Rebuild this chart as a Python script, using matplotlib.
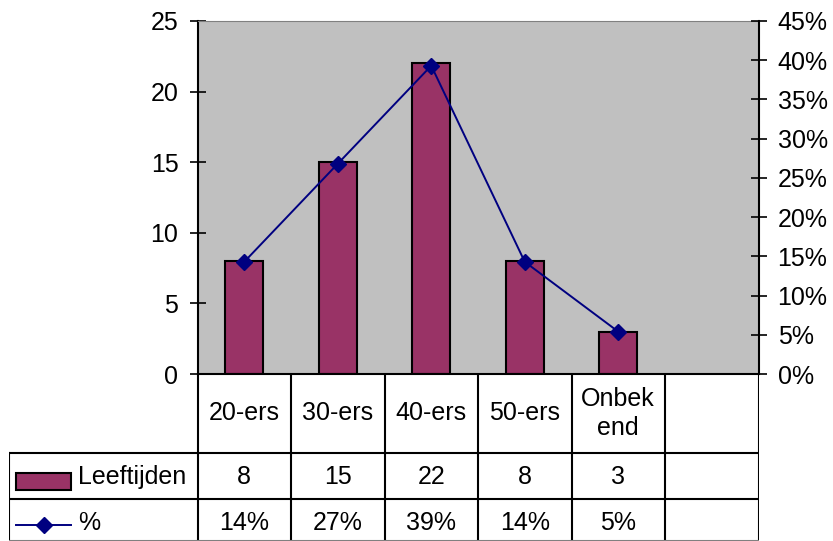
import numpy as np
import matplotlib.pyplot as plt
from matplotlib.patches import Rectangle
from matplotlib.lines import Line2D

# Gegevens
categorieen = ['20-ers', '30-ers', '40-ers', '50-ers', 'Onbek\nend', '']
leeftijden = [8, 15, 22, 8, 3]
percentages = [0.143, 0.268, 0.393, 0.143, 0.054]
pct_labels = ['14%', '27%', '39%', '14%', '5%']
links_ticks = [0, 5, 10, 15, 20, 25]
rechts_ticks = [0, 0.05, 0.10, 0.15, 0.20, 0.25, 0.30, 0.35, 0.40, 0.45]

plt.rcParams['font.family'] = ['Liberation Sans', 'DejaVu Sans']
fs = 18
bar_kleur = '#993366'
lijn_kleur = '#000080'

W, H = 833, 541
L, R, T, B = 197.5, 758.5, 21, 374
tab_links = 8.5
rij1, rij2, rij3 = 452.7, 499, 540.5

fig = plt.figure(figsize=(W / 100, H / 100), dpi=100)
ax = fig.add_axes([L / W, 1 - B / H, (R - L) / W, (B - T) / H])
ax.set_facecolor('#C0C0C0')

x = np.arange(len(leeftijden))
ax.bar(x, leeftijden, width=0.41, color=bar_kleur, edgecolor='black', linewidth=1.5, zorder=2)
ax.set_xlim(-0.5, len(categorieen) - 0.5)
ax.set_ylim(0, 25)
ax.set_yticks(links_ticks)
ax.set_xticks([])
ax.tick_params(axis='y', direction='inout', length=11.5, width=1.2, labelsize=fs, pad=8)
for s in ['left', 'bottom']:
    ax.spines[s].set_linewidth(1.5)
ax.spines['top'].set_color('#808080')
ax.spines['right'].set_visible(False)

ax2 = ax.twinx()
ax2.plot(x, percentages, color=lijn_kleur, lw=1.4, marker='D', ms=8, zorder=3)
ax2.set_ylim(0, 0.45)
ax2.set_yticks(rechts_ticks)
ax2.set_yticklabels([f'{int(round(v * 100))}%' for v in rechts_ticks])
ax2.tick_params(axis='y', direction='inout', length=11.5, width=1.2, labelsize=fs, pad=8)
ax2.spines['right'].set_linewidth(1.5)
for s in ['left', 'top', 'bottom']:
    ax2.spines[s].set_visible(False)

# Gegevenstabel onder de grafiek
eenheid = (R - L) / len(categorieen)
links = -0.5 - (L - tab_links) / eenheid
tab = fig.add_axes([tab_links / W, 0, (R - tab_links) / W, 1 - B / H])
tab.set_xlim(links, len(categorieen) - 0.5)
tab.set_ylim(H, B)
tab.axis('off')

def px(v):
    return links + (v - tab_links) / eenheid

n = len(categorieen)
for i in range(n + 1):
    tab.plot([i - 0.5, i - 0.5], [B, rij3], color='black', lw=1.5)
tab.plot([links, links], [rij1, rij3], color='black', lw=1.5)
tab.plot([links, n - 0.5], [rij1, rij1], color='black', lw=1.5)
tab.plot([links, n - 0.5], [rij2, rij2], color='black', lw=1.5)
tab.plot([links, n - 0.5], [rij3, rij3], color='#808080', lw=1.5)

for i, c in enumerate(categorieen):
    tab.text(i, (B + rij1) / 2, c, ha='center', va='center', fontsize=fs, linespacing=1.25)
for i, v in enumerate(leeftijden):
    tab.text(i, (rij1 + rij2) / 2 + 1, str(v), ha='center', va='center', fontsize=fs)
for i, p in enumerate(pct_labels):
    tab.text(i, 523, p, ha='center', va='center', fontsize=fs)

# legendasleutels
tab.add_patch(Rectangle((px(16), 473), px(71) - px(16), 17, facecolor=bar_kleur,
                        edgecolor='black', lw=1.5))
tab.text(px(78), (rij1 + rij2) / 2 + 1, 'Leeftijden', ha='left', va='center', fontsize=fs)
tab.add_line(Line2D([px(16), px(71)], [525, 525], color=lijn_kleur, lw=1.4))
tab.plot([(px(16) + px(71)) / 2], [525], marker='D', ms=8, color=lijn_kleur)
tab.text(px(78), 523, '%', ha='left', va='center', fontsize=fs)

fig.savefig('out.png', dpi=100)
